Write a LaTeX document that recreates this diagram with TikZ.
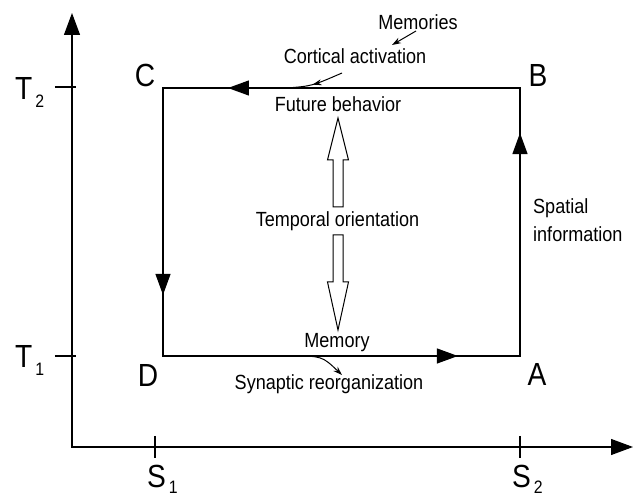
\documentclass[tikz,border=0pt]{standalone}
\usepackage{fontspec}
\setmainfont{Liberation Sans}[FakeStretch=0.88]
\usetikzlibrary{arrows.meta,decorations.markings}

% letter with a lowered index
\newcommand{\withsub}[3][-8pt]{#2\kern3pt\raisebox{#1}{\fontsize{18}{18}\selectfont #3}}

\begin{document}
\begin{tikzpicture}[x=10pt, y=10pt,
    axisline/.style={line width=1.2pt, {Triangle[length=22pt,width=16pt]}-{Triangle[length=22pt,width=16pt]}},
    loopline/.style={line width=1.2pt, line cap=rect},
    flowmark/.style={postaction={decorate}, decoration={markings,
        mark=at position #1 with {\arrow{Triangle[length=21pt,width=15pt]}}}},
    pointer/.style={line width=1pt, -{Stealth[length=9pt,width=6pt]}},
    fat/.style={line width=1pt, fill=white},
    txt/.style={font=\fontsize{20.5}{28}\selectfont, inner sep=0pt},
    corner/.style={font=\fontsize{32}{32}\selectfont, inner sep=0pt, anchor=base},
    axislbl/.style={font=\fontsize{32}{32}\selectfont, inner sep=0pt, anchor=base west},
    tick/.style={line width=1.2pt}]
    \useasboundingbox (-7.2,-5.4) rectangle (56.6,44.7);

    % Axes
    \draw[axisline] (0,43.4) -- (0,0) -- (56.1,0);
    \draw[tick] (-1.7,36.0) -- (0.4,36.0);
    \draw[tick] (-1.7,9.1) -- (0.4,9.1);
    \draw[tick] (8.3,1.1) -- (8.3,-1.1);
    \draw[tick] (44.8,1.1) -- (44.8,-1.1);
    \node[axislbl] (t2) at (-5.7,34.7) {\withsub{T}{2}};
    \node[axislbl] (t1) at (-5.7,7.9) {\withsub{T}{1}};
    \node[axislbl] (s1) at (7.5,-4.1) {\withsub[-6pt]{S}{1}};
    \node[axislbl] (s2) at (44.0,-4.1) {\withsub[-6pt]{S}{2}};

    % Loop
    \coordinate (C) at (9.1,35.9);
    \coordinate (B) at (44.8,35.9);
    \coordinate (A) at (44.8,9.1);
    \coordinate (D) at (9.1,9.1);
    \draw[loopline, flowmark=0.826] (D) -- (A);
    \draw[loopline, flowmark=0.832] (A) -- (B);
    \draw[loopline, flowmark=0.818] (B) -- (C);
    \draw[loopline, flowmark=0.772] (C) -- (D);
    \node[corner] (lc) at (7.3,36.0) {C};
    \node[corner] (lb) at (46.6,36.0) {B};
    \node[corner] (la) at (46.5,6.1) {A};
    \node[corner] (ld) at (7.6,6.0) {D};

    % Labels
    \node[txt, anchor=base] (memories) at (34.6,41.7) {Memories};
    \node[txt, anchor=base] (cortical) at (28.3,38.3) {Cortical activation};
    \node[txt, anchor=base] (future) at (26.6,33.5) {Future behavior};
    \node[txt, anchor=base] (temporal) at (26.55,22.0) {Temporal orientation};
    \node[txt, anchor=base] (memory) at (26.5,9.9) {Memory};
    \node[txt, anchor=base] (synaptic) at (25.7,5.7) {Synaptic reorganization};
    \node[txt, anchor=north west, align=left] (spatial) at (46.1,24.9) {Spatial\\information};

    % Small pointers
    \coordinate (m1) at (34.4,41.6);
    \coordinate (m2) at (32.0,40.2);
    \draw[pointer] (m1) -- (m2);
    \coordinate (c1) at (27.0,37.4);
    \coordinate (c2) at (21.5,35.9);
    \draw[line width=1pt, postaction={decorate}, decoration={markings,
        mark=at position 0.55 with {\arrow{Stealth[length=9pt,width=6pt]}}}]
        (c1) .. controls (24.0,36.1) .. (c2);
    \coordinate (y1) at (21.8,9.1);
    \coordinate (y2) at (27.0,7.2);
    \draw[pointer] (y1) .. controls (25.0,9.1) .. (y2);

    % Hollow arrows
    \draw[fat] (26.6,32.9) -- (27.65,28.7) -- (27.1,28.7) -- (27.1,24.0)
        -- (26.1,24.0) -- (26.1,28.7) -- (25.55,28.7) -- cycle;
    \draw[fat] (26.6,11.7) -- (27.65,16.5) -- (27.1,16.5) -- (27.1,21.2)
        -- (26.1,21.2) -- (26.1,16.5) -- (25.55,16.5) -- cycle;
\end{tikzpicture}
\end{document}
